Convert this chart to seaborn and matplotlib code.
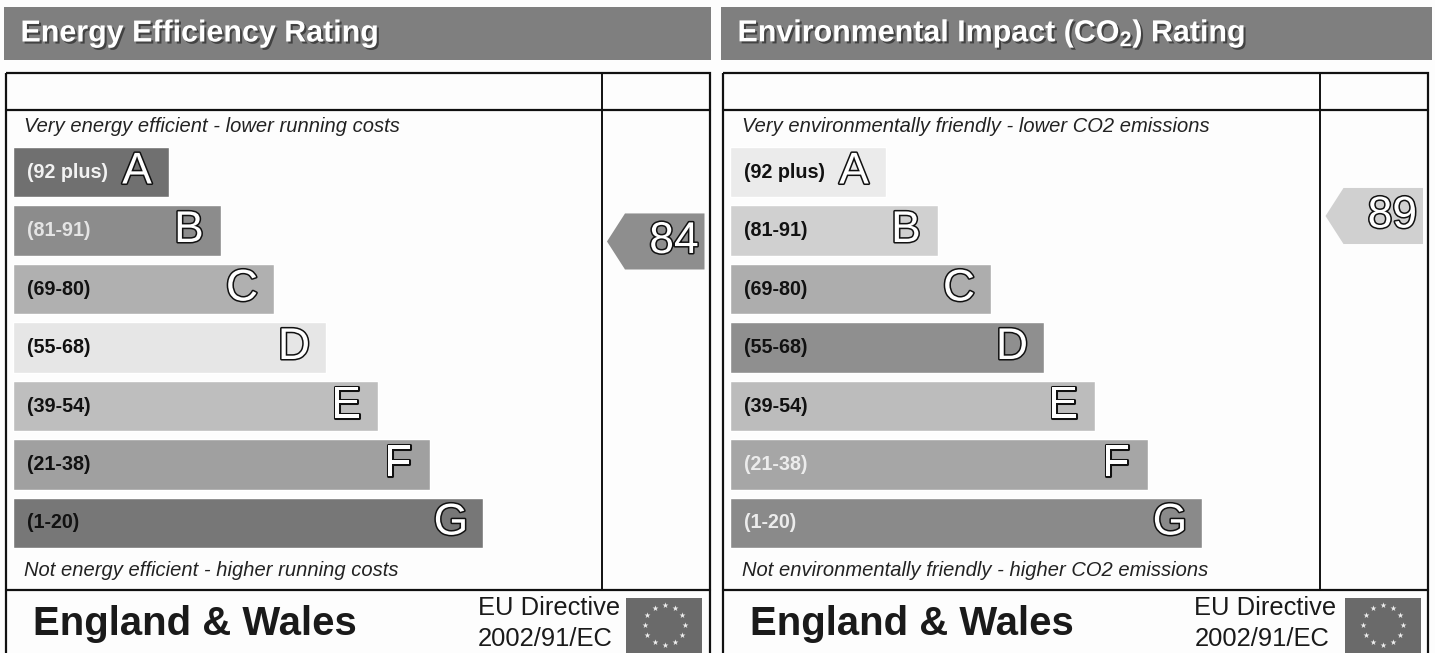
import numpy as np
import pandas as pd
import matplotlib
matplotlib.use('Agg')
import matplotlib.pyplot as plt
import matplotlib.patheffects as pe
from matplotlib.patches import Rectangle
import seaborn as sns

W, H = 1435, 653

bands = ['A', 'B', 'C', 'D', 'E', 'F', 'G']
ranges = ['(92 plus)', '(81-91)', '(69-80)', '(55-68)', '(39-54)', '(21-38)', '(1-20)']

energy_widths = [156, 208, 261, 313, 365, 417, 470]
energy_greys = ['#707070', '#8c8c8c', '#b0b0b0', '#e6e6e6', '#bebebe', '#a0a0a0', '#777777']
energy_label_colors = ['#f2f2f2', '#e4e4e4', '#111111', '#111111', '#111111', '#111111', '#111111']
energy_rating = 84

co2_widths = [156, 208, 261, 314, 365, 418, 472]
co2_greys = ['#ebebeb', '#d0d0d0', '#adadad', '#8f8f8f', '#bcbcbc', '#a6a6a6', '#8a8a8a']
co2_label_colors = ['#111111', '#111111', '#111111', '#111111', '#111111', '#ececec', '#ececec']
co2_rating = 89

sns.set_theme(style='white')
plt.rcParams['font.family'] = ['Liberation Sans', 'DejaVu Sans']
plt.rcParams['mathtext.default'] = 'regular'

OUTLINE = [pe.Stroke(linewidth=2.2, foreground='#111111'), pe.Normal()]


def px_axes(fig, x0, y0, x1, y1):
    # axes placed with pixel coords of the reference (y from the top)
    return fig.add_axes([x0 / W, 1 - y1 / H, (x1 - x0) / W, (y1 - y0) / H])


def draw_panel(fig, bg, frame, band, title, top_text, bottom_text, widths, greys, label_colors, rating, rating_col):
    x0, col, x1 = frame
    bg.add_patch(Rectangle((band[0], 7), band[1] - band[0], 53, color='#7f7f7f', lw=0))
    bg.text(x0 + 14.5, 33.5, title, color='white', fontsize=21.9, fontweight='bold', va='center',
            path_effects=[pe.withSimplePatchShadow(offset=(1.5, -1.5), shadow_rgbFace='#333333', alpha=0.8)])

    # frame
    bg.add_patch(Rectangle((x0, 72.5), x1 - x0, 590, fill=False, ec='#111111', lw=1.6))
    bg.plot([x0, x1], [109.5, 109.5], color='#111111', lw=1.6)
    bg.plot([x0, x1], [590, 590], color='#111111', lw=1.6)
    bg.plot([col, col], [72.5, 590], color='#111111', lw=1.4)

    bg.text(x0 + 18.5, 127, top_text, style='italic', fontsize=14.5, va='center', color='#222222')
    bg.text(x0 + 18.5, 570, bottom_text, style='italic', fontsize=14.5, va='center', color='#222222')

    bg.text(x0 + 27, 624, 'England & Wales', fontsize=28.9, fontweight='bold', va='center', color='#1a1a1a')
    bg.text(x0 + 471.5, 608, 'EU Directive', fontsize=18.4, va='center', color='#1a1a1a')
    bg.text(x0 + 471.5, 639, '2002/91/EC', fontsize=18.4, va='center', color='#1a1a1a')

    # flag
    bg.add_patch(Rectangle((col + 24.5, 598), 76, 55, color='#6a6a6a', lw=0))
    ang = np.arange(12) * np.pi / 6
    bg.scatter(col + 63 + 20 * np.cos(ang), 625 + 20 * np.sin(ang), marker='*', s=20, color='#eeeeee', lw=0)

    # rating bars
    ax = px_axes(fig, x0 + 7, 142.75, col, 552.25)
    df = pd.DataFrame({'band': bands, 'width': widths})
    sns.barplot(data=df, x='width', y='band', hue='band', palette=greys, width=0.86,
                legend=False, saturation=1, ax=ax)
    ax.set_xlim(0, col - x0 - 7)
    ax.axis('off')
    for i, b in enumerate(bands):
        ax.text(14, i, ranges[i], fontsize=14.2, fontweight='bold', va='center', color=label_colors[i])
        ax.text(widths[i] - 32, i, b, fontsize=32, ha='center', va='center', color='white',
                path_effects=OUTLINE)

    # current rating pointer, y axis is the rating scale
    pax = px_axes(fig, col, 109.5, col + 110, 590)
    pax.set_xlim(0, 110)
    pax.set_ylim(15.6, 109.9)
    pax.axis('off')
    pax.fill([5.5, 23.5, 103, 103, 23.5], [rating, rating + 5.5, rating + 5.5, rating - 5.5, rating - 5.5],
             color=rating_col, lw=0)
    pax.text(97, rating, str(rating), fontsize=32, ha='right', va='center', color='white',
             path_effects=OUTLINE)


fig = plt.figure(figsize=(W / 100, H / 100), dpi=100, facecolor='#fdfdfd')
bg = fig.add_axes([0, 0, 1, 1])
bg.set_xlim(0, W)
bg.set_ylim(H, 0)
bg.axis('off')

draw_panel(fig, bg, (6, 601.5, 709.5), (4, 711), 'Energy Efficiency Rating',
           'Very energy efficient - lower running costs',
           'Not energy efficient - higher running costs',
           energy_widths, energy_greys, energy_label_colors, energy_rating, '#8e8e8e')
draw_panel(fig, bg, (723, 1320, 1428), (721, 1432), 'Environmental Impact (CO$_2$) Rating',
           'Very environmentally friendly - lower CO2 emissions',
           'Not environmentally friendly - higher CO2 emissions',
           co2_widths, co2_greys, co2_label_colors, co2_rating, '#d0d0d0')

fig.savefig('out.png', dpi=100, facecolor=fig.get_facecolor())
